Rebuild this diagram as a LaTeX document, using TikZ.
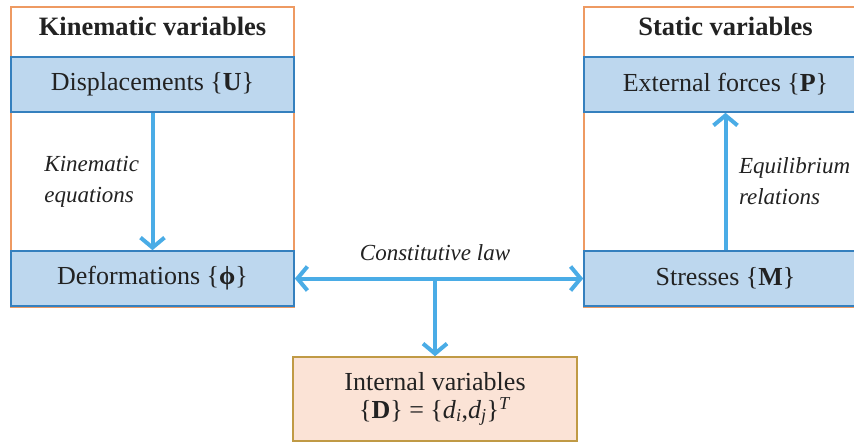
\documentclass[tikz,border=0pt]{standalone}
\usepackage{fontspec}
\setmainfont{Liberation Serif}
\usepackage{xcolor}
\usetikzlibrary{arrows.meta,positioning,calc}
\definecolor{grpline}{HTML}{EE9A62}
\definecolor{boxline}{HTML}{3580BE}
\definecolor{boxfill}{HTML}{BDD7EE}
\definecolor{flow}{HTML}{4AACE6}
\definecolor{intfill}{HTML}{FBE3D6}
\definecolor{intline}{HTML}{C09A45}
\definecolor{ink}{HTML}{222222}

\begin{document}
\begin{tikzpicture}[
  x=1pt,y=-1pt,
  every node/.style={text=ink},
  grp/.style={draw=grpline,line width=1.5pt,minimum width=283pt,minimum height=300pt,inner sep=0pt},
  hd/.style={font=\fontsize{26.5}{30}\selectfont\bfseries},
  vb/.style={draw=boxline,line width=1.6pt,fill=boxfill,minimum width=283pt,minimum height=55pt,
             font=\fontsize{26}{30}\selectfont,inner sep=0pt},
  ib/.style={draw=intline,line width=1.6pt,fill=intfill,minimum width=284pt,minimum height=84pt,
             font=\fontsize{26}{28}\selectfont,align=center,inner sep=0pt},
  fl/.style={flow,line width=4pt,-{Straight Barb[length=10pt,width=24pt]}},
  fl2/.style={flow,line width=4pt,{Straight Barb[length=10pt,width=24pt]}-{Straight Barb[length=10pt,width=24pt]}},
  lb/.style={font=\fontsize{23}{31}\selectfont\itshape,align=left}
]
  \useasboundingbox (0,0) rectangle (854,445);

  % groups
  \node[grp] (kin) at (152.5,157) {};
  \node[grp] (sta) at (725.5,157) {};
  \node[hd] (kinhd) at (152.5,26) {Kinematic variables};
  \node[hd] (stahd) at (725.5,26) {Static variables};

  % variable boxes
  \node[vb] (disp) at (152.5,84.5) {Displacements \{\textbf{U}\}};
  \node[vb] (defo) at (152.5,278.5) {Deformations \{\textbf{ϕ}\}};
  \node[vb] (extf) at (725.5,84.5) {External forces \{\textbf{P}\}};
  \node[vb] (strs) at (725.5,278.5) {Stresses \{\textbf{M}\}};
  \node[ib] (intv) at (435,399) {Internal variables\\
    \{\textbf{D}\} = \{\textit{d}\textsubscript{\textit{i}},\textit{d}\textsubscript{\textit{j}}\}\textsuperscript{\textit{T}}};

  \coordinate (mid) at (435,278.5);

  % flows
  \draw[fl] (disp) -- (defo);
  \draw[fl] (strs) -- (extf);
  \draw[fl2] (defo) -- (strs);
  \draw[fl] (mid) -- (intv);

  \node[lb,left=10pt of $(disp.south)!0.5!(defo.north)$] (kineq) {Kinematic\\equations};
  \node[lb,right=10pt of $(extf.south)!0.5!(strs.north)$] (equil) {Equilibrium\\relations};
  \node[lb,above=14pt of mid] (const) {Constitutive law};
\end{tikzpicture}
\end{document}
